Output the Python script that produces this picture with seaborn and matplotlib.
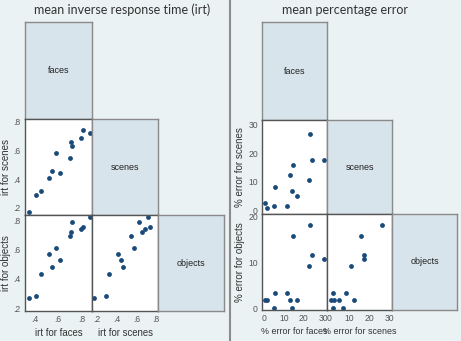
"""Scatter matrices: irt and percentage error per category"""

import matplotlib
matplotlib.use("Agg")
import matplotlib.pyplot as plt
import seaborn as sns

# mean inverse response time, one value per subject
irt_faces = [0.35, 0.41, 0.46, 0.52, 0.55, 0.58, 0.62, 0.70, 0.71, 0.72, 0.80, 0.81, 0.87]
irt_scenes = [0.17, 0.29, 0.32, 0.41, 0.46, 0.58, 0.44, 0.55, 0.66, 0.63, 0.69, 0.74, 0.72]
irt_objects = [0.27, 0.28, 0.43, 0.57, 0.48, 0.61, 0.53, 0.69, 0.72, 0.79, 0.74, 0.75, 0.82]

# mean percentage error, one value per subject
err_faces = [0.4, 1.5, 4.8, 5.5, 11.6, 13.2, 14.0, 14.8, 16.7, 22.7, 23.4, 24.4, 30.2]
err_scenes = [2.5, 0.8, 1.7, 8.3, 1.7, 12.5, 6.7, 15.8, 5.0, 10.8, 26.7, 17.5, 17.5]
err_objects = [1.7, 1.7, 0.0, 3.3, 3.3, 1.7, 0.0, 15.8, 1.7, 9.2, 18.3, 11.7, 10.8]

categories = ["faces", "scenes", "objects"]
irt_ticks = {"faces": [0.4, 0.6, 0.8], "scenes": [0.2, 0.4, 0.6, 0.8],
             "objects": [0.2, 0.4, 0.6, 0.8]}
err_ticks = {"faces": [0, 10, 20, 30], "scenes": [0, 10, 20, 30],
             "objects": [0, 10, 20]}

BG = "#eaf2f3"
DIAG = "#d8e4eb"
DOT = "#1a4a7a"
W, H = 461, 341


def fmt_irt(v):
    return f"{v:.1f}".lstrip("0")


def fmt_err(v):
    return f"{v:g}"


def draw_matrix(fig, data, ticks, lims, fmt, label, cols, rows, xlab_size):
    for i, yname in enumerate(categories):
        for j, xname in enumerate(categories):
            if j > i:
                continue
            x0, x1 = cols[j]
            y0, y1 = rows[i]
            ax = fig.add_axes([x0 / W, 1 - y1 / H, (x1 - x0) / W, (y1 - y0) / H])
            for s in ax.spines.values():
                s.set_color("#555555")
                s.set_linewidth(1.0)
            if i == j:
                ax.set_facecolor(DIAG)
                for s in ax.spines.values():
                    s.set_color("#8a8a8a")
                ax.set_xticks([])
                ax.set_yticks([])
                ax.text(0.5, 0.5, xname, transform=ax.transAxes, ha="center",
                        va="center", fontsize=6.5, color="#222222")
                continue
            ax.set_facecolor("white")
            sns.scatterplot(x=data[xname], y=data[yname], ax=ax, color=DOT,
                            s=12, linewidth=0, legend=False)
            ax.set_xlim(lims[xname])
            ax.set_ylim(lims[yname])
            ax.tick_params(labelsize=6.2, length=2, width=0.6, pad=1,
                           colors="#666666", labelcolor="#555555")
            if i == len(categories) - 1:
                ax.set_xticks(ticks[xname])
                ax.set_xticklabels([fmt(v) for v in ticks[xname]])
                ax.set_xlabel(f"{label} {xname}", fontsize=xlab_size,
                              color="#333333", labelpad=3)
            else:
                ax.set_xticks([])
                ax.set_xlabel("")
            if j == 0:
                ax.set_yticks(ticks[yname])
                ax.set_yticklabels([fmt(v) for v in ticks[yname]])
                ax.set_ylabel(f"{label} {yname}", fontsize=7, color="#333333",
                              labelpad=2)
            else:
                ax.set_yticks([])
                ax.set_ylabel("")


def main() -> None:
    sns.set_style("white")
    plt.rcParams["font.family"] = ["Liberation Sans", "DejaVu Sans"]
    fig = plt.figure(figsize=(W / 100, H / 100), dpi=100, facecolor=BG)

    irt = {"faces": irt_faces, "scenes": irt_scenes, "objects": irt_objects}
    irt_lims = {"faces": (0.32, 0.89), "scenes": (0.15, 0.82),
                "objects": (0.18, 0.835)}
    draw_matrix(fig, irt, irt_ticks, irt_lims, fmt_irt, "irt for",
                cols=[(25, 92), (92, 158), (158, 224)],
                rows=[(22, 119), (119, 215), (215, 311)], xlab_size=6.9)

    err = {"faces": err_faces, "scenes": err_scenes, "objects": err_objects}
    err_lims = {"faces": (-1.2, 31.9), "scenes": (-1.2, 31.5),
                "objects": (-0.4, 20.6)}
    draw_matrix(fig, err, err_ticks, err_lims, fmt_err, "% error for",
                cols=[(262, 327), (327, 392), (392, 457)],
                rows=[(22, 120), (120, 214), (214, 310)], xlab_size=6.4)

    fig.text(122 / W, 1 - 10 / H, "mean inverse response time (irt)",
             ha="center", va="center", fontsize=9, family=["Lato", "DejaVu Sans"],
             color="#333333")
    fig.text(345 / W, 1 - 10 / H, "mean percentage error", ha="center",
             va="center", fontsize=9, family=["Lato", "DejaVu Sans"],
             color="#333333")
    fig.add_artist(plt.Line2D([230 / W, 230 / W], [0, 1], color="#8c8c8c",
                              linewidth=1.5, transform=fig.transFigure))

    fig.savefig("out.png", dpi=100, facecolor=BG)


if __name__ == "__main__":
    main()
